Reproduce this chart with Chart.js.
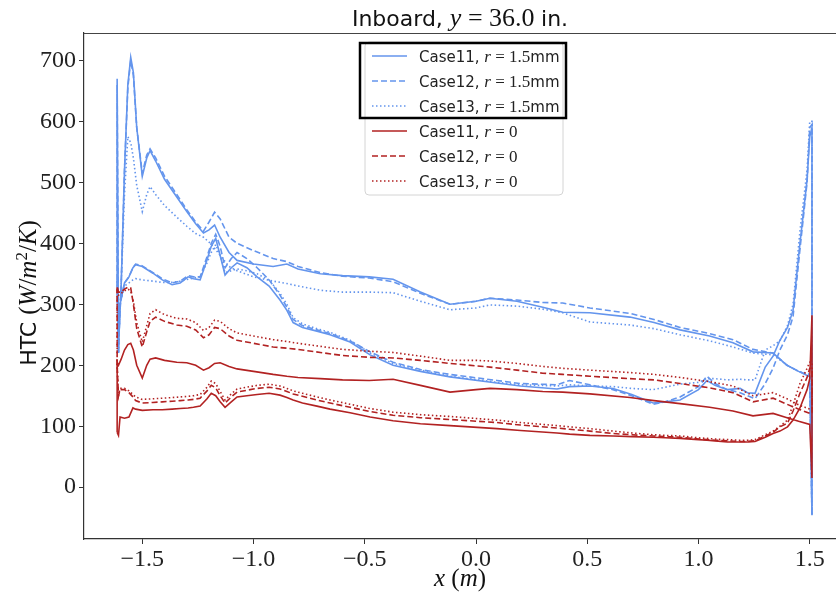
<!DOCTYPE html>
<html>
<head>
<meta charset="utf-8">
<script src="https://cdn.jsdelivr.net/npm/chart.js@4.4.0/dist/chart.umd.min.js"></script>
<style>
  html, body { margin: 0; padding: 0; background: #fff; }
  #wrap { width: 836px; height: 594px; }
</style>
</head>
<body>
<div id="wrap"><canvas id="htc" width="836" height="594"></canvas></div>
<script>
// x (m) along the path: upper surface LE->TE, trailing edge, lower surface TE->LE
const xPath = [
  -1.613, -1.613, -1.607, -1.595, -1.580, -1.565, -1.552, -1.540, -1.525, -1.500,
  -1.480, -1.465, -1.440, -1.400, -1.345, -1.300, -1.260, -1.225, -1.200, -1.175,
  -1.150, -1.110, -1.074, -1.000, -0.912, -0.850, -0.800, -0.700, -0.600, -0.480,
  -0.373, -0.250, -0.117, 0.000, 0.063, 0.184, 0.300, 0.390, 0.512, 0.692,
  0.800, 0.917, 1.050, 1.155, 1.245, 1.335, 1.398, 1.450, 1.500,
  1.510, 1.510,
  1.500, 1.488, 1.456, 1.425, 1.400, 1.366, 1.335, 1.300, 1.254, 1.220,
  1.187, 1.130, 1.074, 1.038, 1.000, 0.917, 0.850, 0.796, 0.700, 0.616,
  0.512, 0.420, 0.364, 0.200, 0.094, -0.117, -0.250, -0.373, -0.476, -0.566,
  -0.656, -0.715, -0.780, -0.822, -0.850, -0.881, -0.930, -0.984, -1.030, -1.074,
  -1.100, -1.128, -1.150, -1.170, -1.190, -1.209, -1.240, -1.270, -1.294, -1.330,
  -1.366, -1.410, -1.452, -1.500, -1.530, -1.542, -1.560, -1.580, -1.600, -1.607,
  -1.613
];

// HTC (W/m^2/K), r = 1.5mm
const htcB11 = [
  340, 670, 230, 330, 520, 660, 705, 680, 590, 510,
  540, 552, 535, 505, 476, 452, 432, 417, 422, 430,
  410, 385, 372, 366, 362, 366, 358, 350, 347, 345,
  341, 320, 300, 305, 310, 305, 295, 287, 286, 279,
  270, 258, 248, 237, 222, 220, 200, 190, 181,
  -46, 590,
  575, 504, 400, 290, 262, 241, 215, 197, 154, 155,
  162, 160, 167, 175, 160, 143, 140, 138, 152, 162,
  166, 165, 161, 166, 171, 181, 190, 200, 217, 238,
  250, 256, 262, 270, 290, 307, 330, 345, 360, 368,
  360, 348, 380, 408, 395, 373, 340, 342, 345, 335,
  332, 340, 351, 362, 365, 360, 345, 335, 300, 220,
  340
];
const htcB12 = [
  340, 660, 230, 330, 520, 655, 700, 675, 590, 515,
  545, 555, 540, 510, 480, 455, 435, 420, 435, 451,
  440, 410, 400, 388, 375, 370, 362, 352, 346, 343,
  337, 318, 300, 305, 310, 307, 303, 302, 294, 285,
  275, 262, 252, 242, 226, 220, 200, 190, 183,
  -46, 595,
  590, 500, 390, 280, 250, 225, 195, 170, 145, 150,
  155, 160, 170, 182, 165, 148, 140, 136, 150, 160,
  168, 175, 168, 170, 175, 185, 193, 205, 222, 240,
  252, 258, 265, 275, 295, 315, 340, 360, 375, 385,
  375, 360, 395, 415, 400, 378, 345, 345, 347, 338,
  335, 342, 352, 363, 366, 360, 345, 335, 300, 220,
  340
];
const htcB13 = [
  330, 340, 230, 330, 480, 575, 565, 540, 495, 452,
  480, 493, 480, 462, 443, 428, 416, 410, 402, 392,
  380, 362, 355, 345, 338, 334, 330, 323, 320, 320,
  319, 305, 291, 294, 299, 297, 292, 286, 271, 266,
  260, 250, 240, 230, 220, 217, 200, 190, 185,
  -46, 600,
  600, 520, 420, 300, 265, 240, 232, 225, 176, 176,
  177, 176, 178, 178, 172, 169, 164, 160, 162, 165,
  166, 168, 166, 168, 172, 182, 192, 203, 220, 241,
  254, 260, 268, 278, 300, 318, 340, 350, 355, 358,
  355, 352, 380, 398, 385, 368, 345, 343, 341, 338,
  336, 336, 338, 340, 342, 340, 335, 330, 300, 220,
  330
];

// HTC (W/m^2/K), r = 0
const htcR11 = [
  90, 205, 200, 210, 225, 234, 236, 225, 200, 179,
  200, 210, 212, 208, 205, 204, 200, 192, 196, 203,
  204, 198, 194, 190, 185, 182, 180, 178, 176, 175,
  177, 167, 156, 160, 162, 160, 157, 156, 153, 147,
  142, 137, 131, 125, 117, 121, 114, 108, 103,
  15, 282,
  178, 160, 130, 110, 99, 92, 88, 82, 75, 74,
  74, 74, 76, 77, 78, 80, 81, 82, 83, 84,
  85, 87, 89, 93, 96, 101, 104, 109, 115, 122,
  128, 133, 138, 143, 147, 151, 154, 152, 150, 148,
  140, 131, 140, 150, 154, 145, 133, 131, 130, 129,
  128, 127, 127, 126, 128, 130, 115, 113, 115, 85,
  90
];
const htcR12 = [
  200, 330, 320, 320, 325, 328, 327, 300, 260, 230,
  255, 272, 279, 272, 266, 264, 258, 245, 250, 262,
  260, 248, 241, 236, 230, 228, 226, 221, 216, 213,
  212, 208, 203, 199, 197, 192, 187, 185, 182, 178,
  176, 170, 163, 155, 140, 146, 136, 128, 121,
  121, 195,
  195, 180, 154, 125, 105, 99, 90, 84, 76, 75,
  75, 76, 77, 78, 79, 82, 83, 84, 86, 88,
  92, 95, 97, 102, 106, 111, 114, 118, 124, 131,
  138, 143, 149, 153, 157, 161, 164, 162, 159, 156,
  148, 138, 150, 163, 167, 158, 146, 144, 143, 142,
  141, 140, 139, 138, 142, 148, 155, 160, 160, 150,
  200
];
const htcR13 = [
  200, 320, 315, 318, 322, 325, 322, 305, 270, 238,
  265, 285, 291, 283, 277, 276, 270, 257, 262, 274,
  272, 260, 253, 248, 242, 239, 236, 231, 226, 223,
  221, 215, 208, 208, 207, 203, 198, 195, 192, 188,
  185, 180, 173, 166, 150, 155, 145, 135, 128,
  128, 205,
  205, 195, 170, 135, 110, 100, 92, 86, 78, 77,
  77, 78, 79, 80, 81, 84, 85, 86, 89, 92,
  96, 99, 101, 106, 110, 116, 119, 123, 129, 136,
  143, 148, 154, 158, 162, 166, 169, 167, 164, 161,
  153, 143, 157, 170, 174, 164, 152, 150, 149, 148,
  147, 146, 145, 144, 148, 152, 158, 162, 162, 150,
  200
];

const caseNames = ['Case11', 'Case12', 'Case13'];
const radiusLabels = ['1.5', '0'];

const BLUE = '#6495ed', RED = '#b22222';
const DASH = { solid: [], dashed: [6, 3], dotted: [1.5, 2.5] };
const SANS = '"DejaVu Sans"', SERIF = '"Liberation Serif"';

const series = [
  { name: caseNames[0], r: 0, ys: htcB11, color: BLUE, dash: 'solid' },
  { name: caseNames[1], r: 0, ys: htcB12, color: BLUE, dash: 'dashed' },
  { name: caseNames[2], r: 0, ys: htcB13, color: BLUE, dash: 'dotted' },
  { name: caseNames[0], r: 1, ys: htcR11, color: RED, dash: 'solid' },
  { name: caseNames[1], r: 1, ys: htcR12, color: RED, dash: 'dashed' },
  { name: caseNames[2], r: 1, ys: htcR13, color: RED, dash: 'dotted' }
];

function toPoints(ys) { return xPath.map((x, i) => ({ x: x, y: ys[i] })); }
function fmt(v, d) { const s = v.toFixed(d); return v < 0 ? '\u2212' + s.slice(1) : s; }

function richWidth(ctx, segs) {
  let w = 0;
  segs.forEach(s => { ctx.font = s[1]; w += ctx.measureText(s[0]).width; });
  return w;
}
function drawRich(ctx, segs, x, y, center) {
  let cx = center ? x - richWidth(ctx, segs) / 2 : x;
  ctx.textAlign = 'left';
  ctx.textBaseline = 'alphabetic';
  segs.forEach(s => {
    ctx.font = s[1];
    ctx.fillText(s[0], cx, y + (s[2] || 0));
    cx += ctx.measureText(s[0]).width;
  });
}

// title, axis titles, top spine and the legend box
const decor = {
  id: 'decor',
  afterDatasetsDraw(chart) {
    const ctx = chart.ctx, a = chart.chartArea;
    ctx.save();
    ctx.strokeStyle = '#444'; ctx.lineWidth = 1;
    ctx.beginPath(); ctx.moveTo(a.left, a.top + 0.5); ctx.lineTo(a.right, a.top + 0.5); ctx.stroke();

    ctx.fillStyle = '#111';
    const cx = (a.left + a.right) / 2;
    drawRich(ctx, [
      ['Inboard, ', '22px ' + SANS],
      ['y', 'italic 26px ' + SERIF],
      [' = 36.0 ', '26px ' + SERIF],
      ['in.', '22px ' + SANS]
    ], cx, 26, true);

    drawRich(ctx, [
      ['x', 'italic 25px ' + SERIF],
      [' (', '25px ' + SERIF],
      ['m', 'italic 25px ' + SERIF],
      [')', '25px ' + SERIF]
    ], cx, 586, true);

    ctx.save();
    ctx.translate(36, 293);
    ctx.rotate(-Math.PI / 2);
    drawRich(ctx, [
      ['HTC ', '22px ' + SANS],
      ['(', '25px ' + SERIF],
      ['W', 'italic 25px ' + SERIF],
      ['/', '25px ' + SERIF],
      ['m', 'italic 25px ' + SERIF],
      ['2', '17px ' + SERIF, -9],
      ['/', '25px ' + SERIF],
      ['K', 'italic 25px ' + SERIF],
      [')', '25px ' + SERIF]
    ], 0, 0, true);
    ctx.restore();

    // legend frame
    const lx = 365, ly = 42, lw = 198, lh = 153, rad = 4;
    ctx.beginPath();
    ctx.moveTo(lx + rad, ly);
    ctx.arcTo(lx + lw, ly, lx + lw, ly + lh, rad);
    ctx.arcTo(lx + lw, ly + lh, lx, ly + lh, rad);
    ctx.arcTo(lx, ly + lh, lx, ly, rad);
    ctx.arcTo(lx, ly, lx + lw, ly, rad);
    ctx.closePath();
    ctx.fillStyle = 'rgba(255,255,255,0.85)';
    ctx.fill();
    ctx.strokeStyle = '#d4d4d4'; ctx.lineWidth = 1;
    ctx.stroke();

    const rows = [56, 81, 106, 131, 156, 181];
    series.forEach((s, i) => {
      const y = rows[i];
      ctx.strokeStyle = s.color; ctx.lineWidth = 1.6;
      ctx.setLineDash(DASH[s.dash]);
      ctx.beginPath(); ctx.moveTo(372, y); ctx.lineTo(407, y); ctx.stroke();
      ctx.setLineDash([]);
      ctx.fillStyle = '#222';
      const segs = [
        [s.name + ', ', '15px ' + SANS],
        ['r', 'italic 17px ' + SERIF],
        [' = ' + radiusLabels[s.r], '17px ' + SERIF]
      ];
      if (s.r === 0) segs.push(['mm', '15px ' + SANS]);
      drawRich(ctx, segs, 419, y + 6, false);
    });

    ctx.strokeStyle = '#000'; ctx.lineWidth = 2.5;
    ctx.strokeRect(360, 43, 206, 75);
    ctx.restore();
  }
};

const datasets = series.map((s, i) => ({
  label: s.name,
  data: toPoints(s.ys),
  showLine: true,
  borderColor: s.color,
  backgroundColor: s.color,
  borderWidth: 1.6,
  borderDash: DASH[s.dash],
  pointRadius: 0,
  fill: false,
  tension: 0,
  order: series.length - i
}));

const tickFont = { family: 'Liberation Serif', size: 24 };

new Chart(document.getElementById('htc'), {
  type: 'scatter',
  data: { datasets: datasets },
  options: {
    responsive: false,
    animation: false,
    layout: { padding: { top: 33, right: 0, bottom: 0, left: 0 } },
    plugins: { legend: { display: false }, tooltip: { enabled: false } },
    scales: {
      x: {
        type: 'linear', min: -1.762, max: 1.618,
        afterFit: s => { s.height = 55; },
        border: { display: true, color: '#333', width: 1.2 },
        grid: { drawOnChartArea: false, drawTicks: true, tickLength: 5, tickColor: '#333' },
        ticks: { stepSize: 0.5, includeBounds: false, maxRotation: 0, padding: 1,
                 color: '#222', font: tickFont, callback: v => fmt(v, 1) }
      },
      y: {
        type: 'linear', min: -85, max: 745,
        afterFit: s => { s.width = 84; },
        border: { display: true, color: '#333', width: 1.2 },
        grid: { drawOnChartArea: false, drawTicks: true, tickLength: 5, tickColor: '#333' },
        ticks: { stepSize: 100, includeBounds: false, padding: 3,
                 color: '#222', font: tickFont, callback: v => fmt(v, 0) }
      }
    }
  },
  plugins: [decor]
});
</script>
</body>
</html>
